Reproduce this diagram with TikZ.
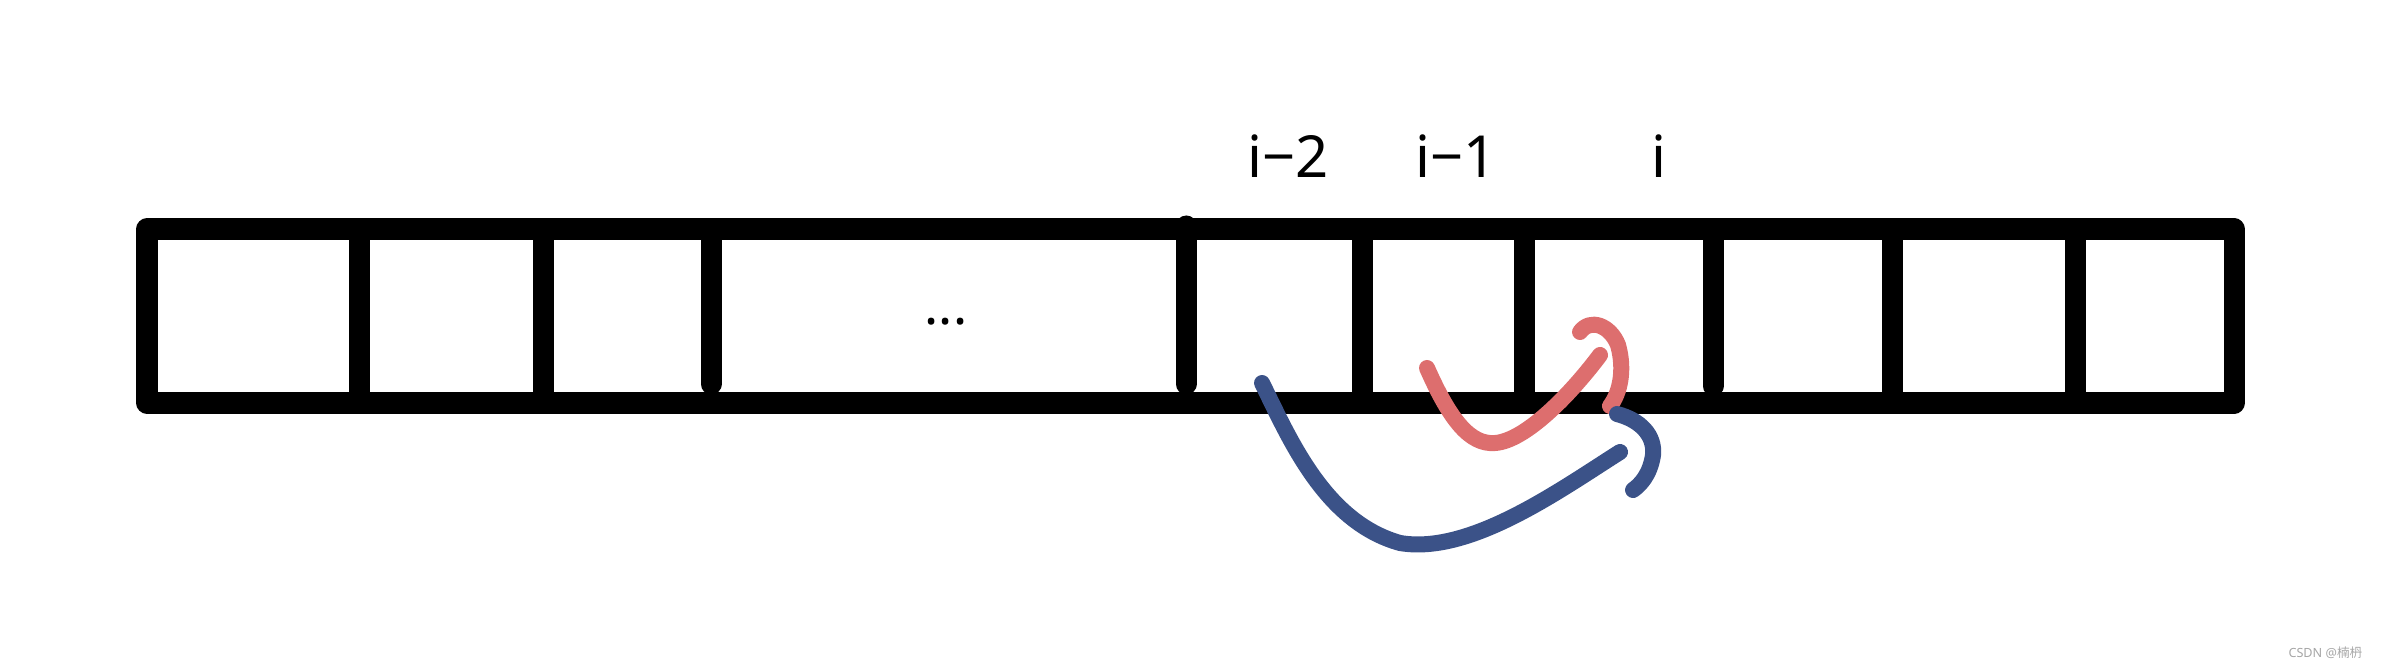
\documentclass[tikz,border=0pt]{standalone}
\usepackage{fontspec}
\setmainfont{Noto Sans}
\newfontfamily\cjkfont{Noto Sans CJK SC}
\usetikzlibrary{positioning}
\definecolor{stepred}{HTML}{DD6E6E}
\definecolor{stepblue}{HTML}{3B5288}

\begin{document}
\begin{tikzpicture}[x=0.01cm, y=-0.01cm,
    cell/.style={draw=black, line width=0.21cm, line join=round},
    wall/.style={black, line width=0.21cm, line cap=round},
    idx/.style={anchor=base, inner sep=0pt, font=\fontsize{16.5}{20}\selectfont},
    jump/.style={#1, line width=0.16cm, line cap=round, line join=round}]

  \useasboundingbox (0,0) rectangle (2383,667);

  %% array outline and cell walls
  \draw[cell] (147,229) rectangle (2234,403);
  \foreach \x/\t/\b in {359/229/403, 543/229/403, 711/229/384, 1186/226/384,
                        1362/229/403, 1524/229/403, 1713/229/386,
                        1892/229/403, 2075/229/403}{
    \draw[wall] (\x,\t) -- (\x,\b);
  }

  %% index labels
  \node[idx] (im2) at (1288,178) {i−2};
  \node[idx] (im1) at (1456,178) {i−1};
  \node[idx] (ii)  at (1659,178) {i};
  \node[anchor=base, inner sep=0pt, font=\fontsize{15}{18}\selectfont]
    (gap) at (946,324) {...};

  %% jump from i-1 to i
  \coordinate (redfrom) at (1427,368);
  \coordinate (redlow)  at (1495,443);
  \coordinate (redto)   at (1600,355);
  \draw[jump=stepred] (redfrom) .. controls (1450,420) and (1470,445) .. (redlow)
    .. controls (1525,441) and (1570,395) .. (redto);
  \coordinate (redhook) at (1580,332);
  \coordinate (redtip)  at (1618,345);
  \coordinate (redend)  at (1610,406);
  \draw[jump=stepred] (redhook) .. controls (1590,318) and (1610,325) .. (redtip)
    .. controls (1625,370) and (1620,393) .. (redend);

  %% jump from i-2 to i
  \coordinate (bluefrom) at (1262,383);
  \coordinate (bluelow)  at (1400,543);
  \coordinate (blueto)   at (1620,452);
  \draw[jump=stepblue] (bluefrom) .. controls (1290,440) and (1325,522) .. (bluelow)
    .. controls (1470,555) and (1560,490) .. (blueto);
  \coordinate (bluehook) at (1617,414);
  \coordinate (bluetip)  at (1653,455);
  \coordinate (blueend)  at (1633,490);
  \draw[jump=stepblue] (bluehook) .. controls (1640,420) and (1655,435) .. (bluetip)
    .. controls (1650,475) and (1640,485) .. (blueend);

  %% watermark
  \node[anchor=base east, inner sep=0pt, gray!70, font=\fontsize{3.6}{4}\selectfont]
    (mark) at (2363,657) {CSDN @{\cjkfont 楠枬}};

\end{tikzpicture}
\end{document}
